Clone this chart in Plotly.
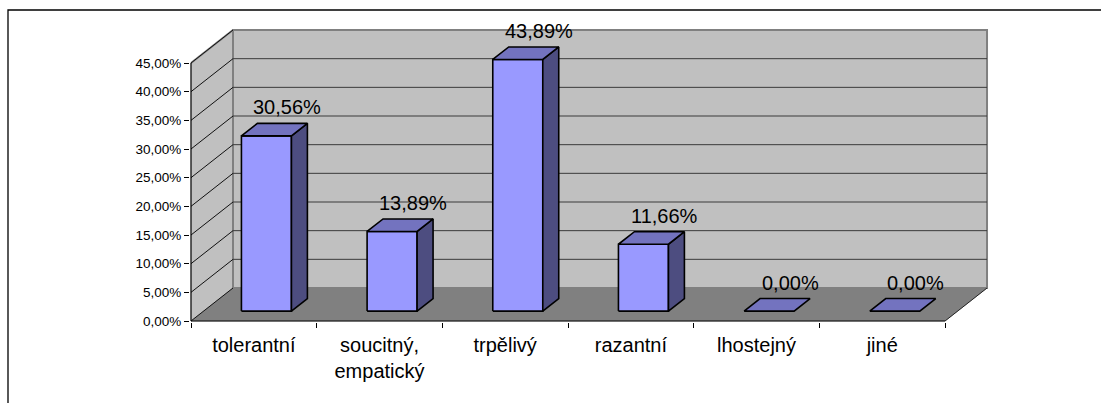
import plotly.graph_objects as go

# --- data ---------------------------------------------------------------
categories = ["tolerantní", "soucitný,<br>empatický", "trpělivý", "razantní", "lhostejný", "jiné"]
values = [30.56, 13.89, 43.89, 11.66, 0.00, 0.00]
y_ticks = [0, 5, 10, 15, 20, 25, 30, 35, 40, 45]


def pct(v):
    return f"{v:.2f}%".replace(".", ",")


# --- figure geometry ----------------------------------------------------
W, H = 1101, 403
M_L, M_R, M_T, M_B = 190, 111, 28, 81
PX_CAT = 125.67          # pixels per category slot
PX_PCT = 5.733           # pixels per percentage point
plot_w = W - M_L - M_R
plot_h = H - M_T - M_B
x0 = -1 / PX_CAT
y0 = -1 / PX_PCT
x_range = [x0, x0 + plot_w / PX_CAT]
y_range = [y0, y0 + plot_h / PX_PCT]

# oblique depth of the 3D box (in axis units)
DEPTH_C = 42 / PX_CAT
DEPTH_V = 33 / PX_PCT
V_MAX = y_ticks[-1]
N = len(categories)

BAR_Z0, BAR_Z1 = 0.30, 0.68
BAR_HALF = 0.199

WALL = "#C0C0C0"
FLOOR = "#808080"
FRONT = "#9999FF"
TOP = "#7373BF"
SIDE = "#4D4D80"
FONT = "Liberation Sans, Arial, sans-serif"


def proj(c, z, v):
    """Oblique projection of (category, depth, value) onto the 2D axes."""
    return c + z * DEPTH_C, v + z * DEPTH_V


def poly(points, fill, line_color, line_width):
    xs, ys = zip(*[proj(*p) for p in points])
    return go.Scatter(
        x=list(xs) + [xs[0]], y=list(ys) + [ys[0]], mode="lines",
        fill="toself", fillcolor=fill,
        line=dict(color=line_color, width=line_width),
        hoverinfo="skip", showlegend=False,
    )


def seg(p, q, color, width):
    a, b = proj(*p), proj(*q)
    return go.Scatter(
        x=[a[0], b[0]], y=[a[1], b[1]], mode="lines",
        line=dict(color=color, width=width),
        hoverinfo="skip", showlegend=False,
    )


fig = go.Figure()

# side wall
fig.add_trace(poly([(0, 0, 0), (0, 0, V_MAX), (0, 1, V_MAX), (0, 1, 0)], WALL, WALL, 0.5))
fig.add_trace(seg((0, 0, V_MAX), (0, 1, V_MAX), FLOOR, 2))
# back wall
fig.add_trace(poly([(0, 1, 0), (0, 1, V_MAX), (N, 1, V_MAX), (N, 1, 0)], WALL, FLOOR, 2))
# floor
fig.add_trace(poly([(0, 0, 0), (N, 0, 0), (N, 1, 0), (0, 1, 0)], FLOOR, FLOOR, 0.5))
fig.add_trace(seg((N, 0, 0), (N, 1, 0), "#222222", 1))

# gridlines on the back wall and on the side wall
for v in y_ticks[1:-1]:
    fig.add_trace(seg((0, 1, v), (N, 1, v), "#3a3a3a", 1))
for v in y_ticks:
    fig.add_trace(seg((0, 0, v), (0, 1, v), "#111111", 1))

# bars
for i, v in enumerate(values):
    cl, cr = i + 0.5 - BAR_HALF, i + 0.5 + BAR_HALF
    if v > 0:
        fig.add_trace(poly([(cl, BAR_Z0, 0), (cr, BAR_Z0, 0), (cr, BAR_Z0, v), (cl, BAR_Z0, v)],
                           FRONT, "black", 1.6))
        fig.add_trace(poly([(cr, BAR_Z0, 0), (cr, BAR_Z1, 0), (cr, BAR_Z1, v), (cr, BAR_Z0, v)],
                           SIDE, "black", 1.6))
    fig.add_trace(poly([(cl, BAR_Z0, v), (cr, BAR_Z0, v), (cr, BAR_Z1, v), (cl, BAR_Z1, v)],
                       TOP, "black", 1.6))
    lx, ly = proj(i + 0.5, BAR_Z1, v)
    fig.add_annotation(
        x=lx, y=ly, text=pct(v), showarrow=False,
        xanchor="center", yanchor="middle", xshift=5, yshift=16,
        font=dict(family=FONT, size=20, color="black"),
    )

# front axis lines
fig.add_trace(seg((0, 0, 0), (0, 0, V_MAX), "black", 1.2))
fig.add_trace(seg((0, 0, 0), (N, 0, 0), "black", 1.2))

# outer chart border
px_to_paper_x = lambda px: (px - M_L) / plot_w
px_to_paper_y = lambda py: (H - M_B - py) / plot_h
fig.add_shape(type="rect", xref="paper", yref="paper",
              x0=px_to_paper_x(8), x1=px_to_paper_x(W + 20),
              y0=px_to_paper_y(H + 20), y1=px_to_paper_y(10),
              line=dict(color="black", width=1.3), fillcolor="rgba(0,0,0,0)")

fig.update_layout(
    width=W, height=H,
    margin=dict(l=M_L, r=M_R, t=M_T, b=M_B, pad=0),
    paper_bgcolor="white", plot_bgcolor="white",
    showlegend=False,
    font=dict(family=FONT, color="black"),
    xaxis=dict(
        range=x_range, showgrid=False, zeroline=False, showline=False,
        tickmode="array", tickvals=[i + 0.5 for i in range(N)], ticktext=categories,
        ticks="", tickfont=dict(family=FONT, size=20, color="black"), ticklabelstandoff=9,
        minor=dict(tickmode="array", tickvals=list(range(N + 1)), ticks="outside",
                   ticklen=5, tickwidth=1, tickcolor="black", showgrid=False),
        fixedrange=True,
    ),
    yaxis=dict(
        range=y_range, showgrid=False, zeroline=False, showline=False,
        tickmode="array", tickvals=y_ticks, ticktext=[pct(v) for v in y_ticks],
        ticks="outside", ticklen=5, tickwidth=1, tickcolor="black",
        tickfont=dict(family=FONT, size=13.5, color="black"),
        fixedrange=True,
    ),
)

fig.write_html("out.html")
